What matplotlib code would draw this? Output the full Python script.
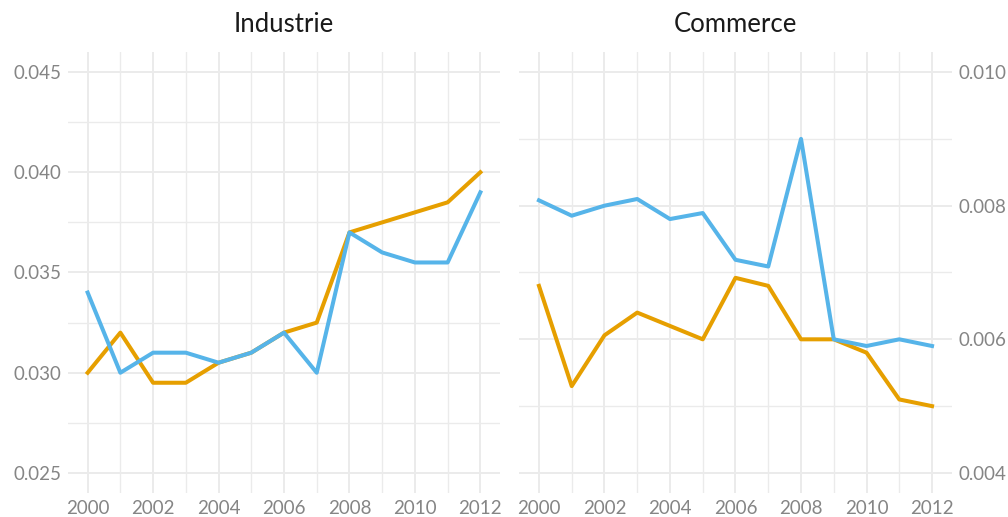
import matplotlib
matplotlib.use("Agg")
import matplotlib.pyplot as plt
from matplotlib.ticker import MultipleLocator, FormatStrFormatter

years = list(range(2000, 2013))

industrie_orange = [0.0300, 0.0320, 0.0295, 0.0295, 0.0305, 0.0310, 0.0320,
                    0.0325, 0.0370, 0.0375, 0.0380, 0.0385, 0.0400]
industrie_blue = [0.0340, 0.0300, 0.0310, 0.0310, 0.0305, 0.0310, 0.0320,
                  0.0300, 0.0370, 0.0360, 0.0355, 0.0355, 0.0390]

commerce_orange = [0.00680, 0.00530, 0.00606, 0.00640, 0.00620, 0.00600, 0.00692,
                   0.00680, 0.00600, 0.00600, 0.00580, 0.00510, 0.00500]
commerce_blue = [0.00808, 0.00785, 0.00800, 0.00810, 0.00780, 0.00789, 0.00719,
                 0.00709, 0.00900, 0.00600, 0.00590, 0.00600, 0.00590]

titles = ["Industrie", "Commerce"]
x_ticks = [2000, 2002, 2004, 2006, 2008, 2010, 2012]

ORANGE = "#E69F00"
BLUE = "#56B4E9"
GRID = "#ebebeb"
TICK = "#858585"

plt.rcParams['font.family'] = ['Lato', 'DejaVu Sans']

fig = plt.figure(figsize=(10.08, 5.17), dpi=100)
W, H = 1008, 517
ax1 = fig.add_axes([68 / W, 1 - 493 / H, 432 / W, 441 / H])
ax2 = fig.add_axes([519.3 / W, 1 - 493 / H, 432.4 / W, 441 / H])

def style(ax, ylim, major, minor, fmt):
    ax.set_xlim(1999.4, 2012.6)
    ax.set_ylim(*ylim)
    ax.xaxis.set_minor_locator(MultipleLocator(1))
    ax.yaxis.set_major_locator(MultipleLocator(major))
    ax.yaxis.set_minor_locator(MultipleLocator(minor))
    ax.yaxis.set_major_formatter(FormatStrFormatter(fmt))
    ax.set_xticks(x_ticks)
    ax.set_xticklabels([str(v) for v in x_ticks])
    for s in ax.spines.values():
        s.set_visible(False)
    ax.grid(True, which='major', color=GRID, linewidth=1.4)
    ax.grid(True, which='minor', color=GRID, linewidth=1.0)
    ax.set_axisbelow(True)
    ax.tick_params(which='both', length=0, labelsize=13.5, labelcolor=TICK, pad=5)

ax1.plot(years, industrie_orange, color=ORANGE, lw=2.9, solid_joinstyle='round')
ax1.plot(years, industrie_blue, color=BLUE, lw=2.9, solid_joinstyle='round')
style(ax1, (0.024, 0.046), 0.005, 0.0025, '%.3f')

ax2.plot(years, commerce_orange, color=ORANGE, lw=2.9, solid_joinstyle='round')
ax2.plot(years, commerce_blue, color=BLUE, lw=2.9, solid_joinstyle='round')
style(ax2, (0.0037, 0.0103), 0.002, 0.001, '%.3f')
ax2.yaxis.tick_right()
ax2.tick_params(which='both', length=0, labelsize=13.5, labelcolor=TICK, pad=5)

fig.text((68 + 500) / 2 / W, 1 - 25 / H, titles[0], ha='center', va='center',
         fontsize=18.5, color='#1a1a1a')
fig.text((519.3 + 951.7) / 2 / W, 1 - 25 / H, titles[1], ha='center', va='center',
         fontsize=18.5, color='#1a1a1a')

fig.savefig("out.png", dpi=100, facecolor='white')
